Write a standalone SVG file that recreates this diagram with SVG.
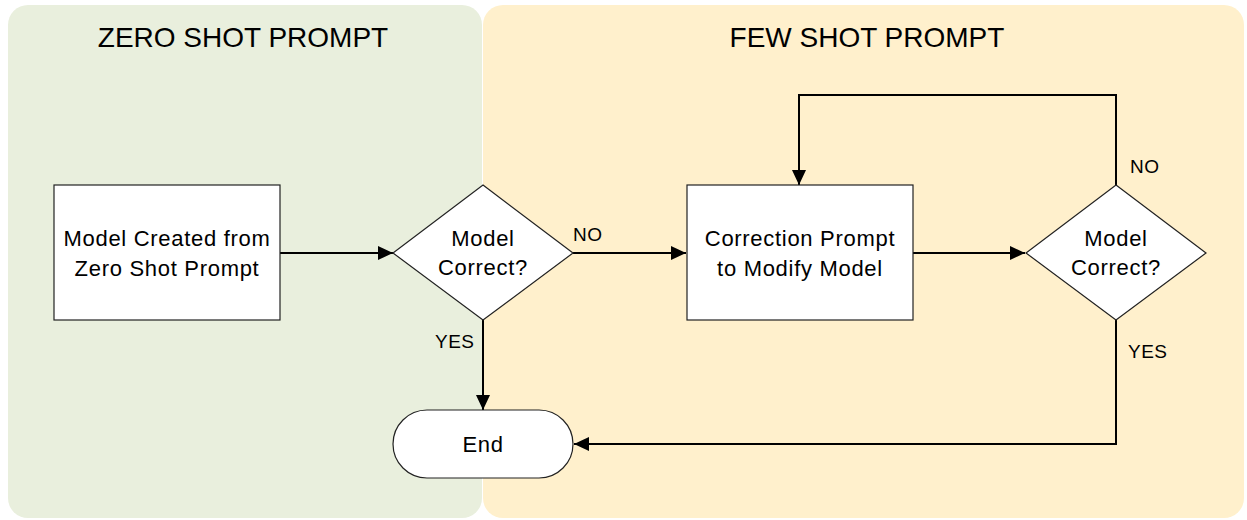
<svg xmlns="http://www.w3.org/2000/svg" width="1247" height="520" viewBox="0 0 1247 520">
  <style>
    .title { font-family: "Liberation Sans", Arial, sans-serif; font-size: 28px; fill: #000; text-anchor: middle; }
    .txt { font-family: "Liberation Sans", Arial, sans-serif; font-size: 22px; letter-spacing: 0.7px; fill: #000; text-anchor: middle; }
    .lbl { font-family: "Liberation Sans", Arial, sans-serif; font-size: 19px; letter-spacing: 0.5px; fill: #000; }
    .node { fill: #ffffff; stroke: #222; stroke-width: 1.2; }
    .conn { fill: none; stroke: #000; stroke-width: 2; }
  </style>
  <defs>
    <marker id="arrow" markerUnits="userSpaceOnUse" markerWidth="16" markerHeight="14" refX="15" refY="7" orient="auto">
      <path d="M0,0 L15,7 L0,14 Z" fill="#000"/>
    </marker>
  </defs>

  <g id="panel-zero">
    <rect x="8" y="5" width="474" height="513" rx="20" ry="20" fill="#E9EFDD"/>
    <text class="title" x="243" y="47">ZERO SHOT PROMPT</text>
  </g>
  <g id="panel-few">
    <rect x="483" y="5" width="761" height="513" rx="20" ry="20" fill="#FFF0CC"/>
    <text class="title" x="867" y="47">FEW SHOT PROMPT</text>
  </g>

  <g id="connectors">
    <line class="conn" x1="280" y1="253" x2="393" y2="253" marker-end="url(#arrow)"/>
    <line class="conn" x1="573" y1="253" x2="686" y2="253" marker-end="url(#arrow)"/>
    <line class="conn" x1="913" y1="253" x2="1025" y2="253" marker-end="url(#arrow)"/>
    <polyline class="conn" points="1116,185 1116,95 799,95 799,185" marker-end="url(#arrow)"/>
    <line class="conn" x1="483" y1="320" x2="483" y2="410" marker-end="url(#arrow)"/>
    <polyline class="conn" points="1116,320 1116,444 574,444" marker-end="url(#arrow)"/>
    <text class="lbl" x="573" y="241">NO</text>
    <text class="lbl" x="435" y="348">YES</text>
    <text class="lbl" x="1130" y="173">NO</text>
    <text class="lbl" x="1128" y="358">YES</text>
  </g>

  <g id="node-zero-shot">
    <rect class="node" x="54" y="185" width="226" height="135"/>
    <text class="txt" x="167" y="246">Model Created from</text>
    <text class="txt" x="167" y="276">Zero Shot Prompt</text>
  </g>

  <g id="node-decision-1">
    <polygon class="node" points="483,185 573,253 483,320 393,253"/>
    <text class="txt" x="483" y="246">Model</text>
    <text class="txt" x="483" y="275">Correct?</text>
  </g>

  <g id="node-correction">
    <rect class="node" x="687" y="185" width="226" height="135"/>
    <text class="txt" x="800" y="246">Correction Prompt</text>
    <text class="txt" x="800" y="276">to Modify Model</text>
  </g>

  <g id="node-decision-2">
    <polygon class="node" points="1116,185 1206,253 1116,320 1026,253"/>
    <text class="txt" x="1116" y="246">Model</text>
    <text class="txt" x="1116" y="275">Correct?</text>
  </g>

  <g id="node-end">
    <rect class="node" x="393" y="410" width="180" height="68" rx="34" ry="34"/>
    <text class="txt" x="483" y="452">End</text>
  </g>
</svg>
